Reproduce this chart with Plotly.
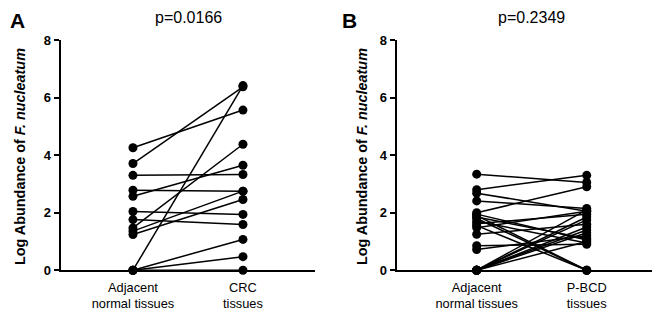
import plotly.graph_objects as go

# ---- data ----
cats_A = ["Adjacent<br>normal tissues", "CRC<br>tissues"]
cats_B = ["Adjacent<br>normal tissues", "P-BCD<br>tissues"]
yticks = [0, 2, 4, 6, 8]

A_adjacent = [4.26, 3.71, 3.30, 2.78, 2.57, 2.04, 1.76, 1.47, 1.36, 1.24, 0.0, 0.0, 0.0, 0.0]
A_crc      = [5.57, 6.38, 3.33, 2.75, 3.65, 1.94, 1.59, 4.38, 2.75, 2.46, 6.42, 1.07, 0.47, 0.0]

B_adjacent = [3.34, 2.80, 2.68, 2.41, 2.00, 1.95, 1.90, 1.85, 1.80, 1.70, 1.62, 1.55, 1.48,
              1.25, 0.85, 0.72, 0.0, 0.0, 0.0, 0.0, 0.0, 0.0, 0.0]
B_pbcd     = [3.05, 3.30, 2.05, 2.15, 2.90, 1.05, 0.0, 1.10, 0.0, 0.95, 1.95, 0.0, 2.05,
              1.60, 0.90, 1.20, 1.40, 1.50, 1.75, 1.85, 1.00, 1.30, 2.10]

p_A = "p=0.0166"
p_B = "p=0.2349"
ytitle = "Log Abundance of <i>F. nucleatum</i>"

FONT = "Liberation Sans, Arial, Helvetica, sans-serif"

# page offset of the plot div (default body margin) and figure size fitting the window
OFF = 8
W, H = 660 - OFF, 314 - OFF

def fx(px):
    return (px - OFF) / W

def fy(py):
    return 1 - (py - OFF) / H

fig = go.Figure()

def add_panel(left, right, xa, ya):
    xs, ys = [], []
    for a, b in zip(left, right):
        xs += [0, 1, None]
        ys += [a, b, None]
    fig.add_trace(go.Scatter(x=xs, y=ys, mode="lines", line=dict(color="black", width=1.5),
                             xaxis=xa, yaxis=ya, showlegend=False, hoverinfo="skip",
                             cliponaxis=False))
    fig.add_trace(go.Scatter(x=[0] * len(left) + [1] * len(right), y=list(left) + list(right),
                             mode="markers", marker=dict(color="black", size=9),
                             xaxis=xa, yaxis=ya, showlegend=False, cliponaxis=False))

add_panel(A_adjacent, A_crc, "x", "y")
add_panel(B_adjacent, B_pbcd, "x2", "y2")

ydom = [fy(270.2), fy(40.2)]

yaxis_common = dict(range=[0, 8], tickvals=yticks, ticktext=[str(v) for v in yticks],
                    showline=True, linecolor="black", linewidth=2, ticks="outside",
                    ticklen=5, tickwidth=2, tickcolor="black", showgrid=False, zeroline=False,
                    automargin=False,
                    tickfont=dict(family=FONT, size=13, color="black", weight="bold"),
                    domain=ydom)

xaxis_common = dict(tickvals=[0, 1], showline=True, linecolor="black", linewidth=2,
                    ticks="", showgrid=False, zeroline=False, automargin=False,
                    ticklabelstandoff=4,
                    tickfont=dict(family=FONT, size=12.8, color="black"))

fig.update_layout(
    width=W, height=H, autosize=False,
    margin=dict(l=0, r=0, t=0, b=0, pad=0, autoexpand=False),
    plot_bgcolor="white", paper_bgcolor="white",
    xaxis=dict(xaxis_common, domain=[fx(60.7), fx(315)], range=[-0.657, 1.655],
               ticktext=cats_A, anchor="y"),
    yaxis=dict(yaxis_common, anchor="x"),
    xaxis2=dict(xaxis_common, domain=[fx(396.7), fx(658)], range=[-0.727, 1.648],
                ticktext=cats_B, anchor="y2"),
    yaxis2=dict(yaxis_common, anchor="x2"),
)

annots = [
    dict(text="<b>A</b>", x=fx(8), y=fy(20.5), font=dict(size=21)),
    dict(text="<b>B</b>", x=fx(340), y=fy(20.5), font=dict(size=21)),
    dict(text=p_A, x=fx(188.3), y=fy(17), font=dict(size=16), xanchor="center"),
    dict(text=p_B, x=fx(531.7), y=fy(17), font=dict(size=16), xanchor="center"),
    dict(text="<b>" + ytitle + "</b>", x=fx(20), y=fy(157), font=dict(size=14.4),
         textangle=-90, xanchor="center"),
    dict(text="<b>" + ytitle + "</b>", x=fx(362), y=fy(157), font=dict(size=14.4),
         textangle=-90, xanchor="center"),
]
for a in annots:
    a.setdefault("xanchor", "left")
    a["font"].update(family=FONT, color="black")
    fig.add_annotation(xref="paper", yref="paper", showarrow=False, yanchor="middle", **a)

fig.write_html("out.html")
